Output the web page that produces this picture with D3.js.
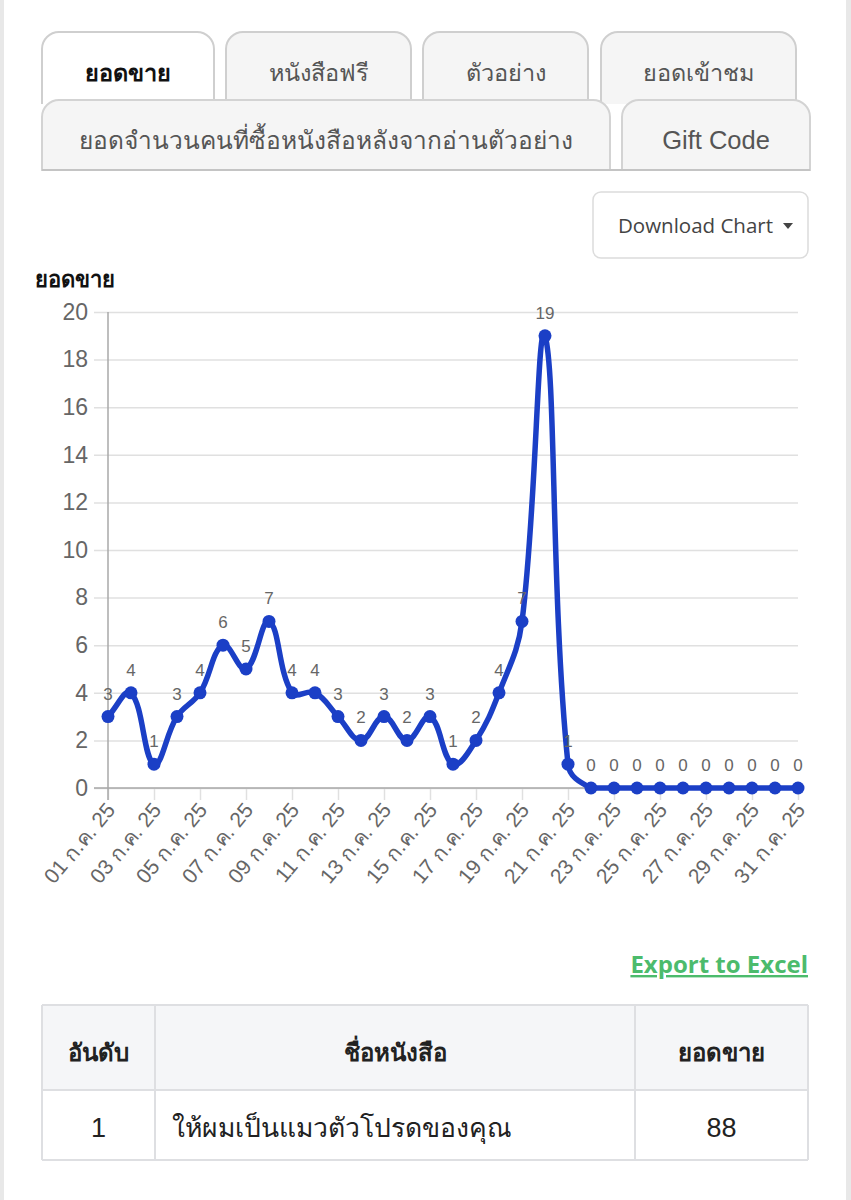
<!DOCTYPE html>
<html>
<head>
<meta charset="utf-8">
<script src="https://cdn.jsdelivr.net/npm/d3@7"></script>
<style>
  html, body { margin: 0; padding: 0; background: #fff; }
  svg { display: block; }
  text { font-family: "Liberation Sans", Arial, Helvetica, sans-serif; }
</style>
</head>
<body>
<svg id="page" width="851" height="1200"></svg>
<script>
// ---------------- data ----------------
const dayLabels = ["01 ก.ค. 25","02 ก.ค. 25","03 ก.ค. 25","04 ก.ค. 25","05 ก.ค. 25","06 ก.ค. 25","07 ก.ค. 25","08 ก.ค. 25","09 ก.ค. 25","10 ก.ค. 25","11 ก.ค. 25","12 ก.ค. 25","13 ก.ค. 25","14 ก.ค. 25","15 ก.ค. 25","16 ก.ค. 25","17 ก.ค. 25","18 ก.ค. 25","19 ก.ค. 25","20 ก.ค. 25","21 ก.ค. 25","22 ก.ค. 25","23 ก.ค. 25","24 ก.ค. 25","25 ก.ค. 25","26 ก.ค. 25","27 ก.ค. 25","28 ก.ค. 25","29 ก.ค. 25","30 ก.ค. 25","31 ก.ค. 25"];
const salesValues = [3,4,1,3,4,6,5,7,4,4,3,2,3,2,3,1,2,4,7,19,1,0,0,0,0,0,0,0,0,0,0];
const yTickValues = [0,2,4,6,8,10,12,14,16,18,20];
const tabRow1 = ["ยอดขาย","หนังสือฟรี","ตัวอย่าง","ยอดเข้าชม"];
const tabRow2 = ["ยอดจำนวนคนที่ซื้อหนังสือหลังจากอ่านตัวอย่าง","Gift Code"];
const chartTitle = "ยอดขาย";
const tableHeaders = ["อันดับ","ชื่อหนังสือ","ยอดขาย"];
const tableRanks = ["1"];
const tableBooks = ["ให้ผมเป็นแมวตัวโปรดของคุณ"];
const tableSales = ["88"];

// ---------------- page ----------------
const svg = d3.select("#page");
svg.append("rect").attr("x",0).attr("y",0).attr("width",4).attr("height",1200).attr("fill","#e8e8e8");
svg.append("rect").attr("x",846).attr("y",0).attr("width",5).attr("height",1200).attr("fill","#e8e8e8");

// ---------------- tabs ----------------
function tabPath(x0, x1, y0, y1, r) {
  const p = d3.path();
  p.moveTo(x0, y1);
  p.lineTo(x0, y0 + r);
  p.arcTo(x0, y0, x0 + r, y0, r);
  p.lineTo(x1 - r, y0);
  p.arcTo(x1, y0, x1, y0 + r, r);
  p.lineTo(x1, y1);
  return p.toString();
}
const row1X = [[42,214],[226,411],[423,588],[601,796]];
const row2X = [[42,610],[622,810]];
const tabs = svg.append("g");
tabRow1.forEach((t, i) => {
  const [a, b] = row1X[i];
  tabs.append("path").attr("d", tabPath(a, b, 32, 104, 17))
    .attr("fill", i === 0 ? "#ffffff" : "#f5f5f5")
    .attr("stroke", "#cfcfcf").attr("stroke-width", 2);
  tabs.append("text").attr("x", (a + b) / 2).attr("y", 81)
    .attr("text-anchor", "middle").attr("font-size", 23.5)
    .attr("font-weight", i === 0 ? "bold" : "normal")
    .attr("fill", i === 0 ? "#111" : "#555").text(t);
});
tabRow2.forEach((t, i) => {
  const [a, b] = row2X[i];
  tabs.append("path").attr("d", tabPath(a, b, 100, 170, 17) + "Z")
    .attr("fill", "#f5f5f5").attr("stroke", "#d3d3d3").attr("stroke-width", 2);
  tabs.append("text").attr("x", (a + b) / 2).attr("y", 149)
    .attr("text-anchor", "middle").attr("font-size", i === 0 ? 24.5 : 25.5)
    .attr("fill", "#555").text(t);
});
tabs.append("line").attr("x1", 42).attr("x2", 810).attr("y1", 170).attr("y2", 170)
  .attr("stroke", "#c4c4c4").attr("stroke-width", 2);

// ---------------- download button ----------------
svg.append("rect").attr("x", 593).attr("y", 192).attr("width", 215).attr("height", 66)
  .attr("rx", 8).attr("fill", "#fff").attr("stroke", "#dcdcdc").attr("stroke-width", 1.5);
svg.append("text").attr("x", 618).attr("y", 233).attr("font-size", 20.5)
  .style("font-family", "'Open Sans', 'Noto Sans', sans-serif")
  .attr("fill", "#444").text("Download Chart");
svg.append("path").attr("d", "M783,223 L793,223 L788,229 Z").attr("fill", "#444");

// ---------------- chart ----------------
const area = { left: 108, right: 798, top: 312, bottom: 788 };
const x = d3.scalePoint().domain(dayLabels).range([area.left, area.right]);
const y = d3.scaleLinear().domain([0, 20]).range([area.bottom, area.top]);
const shownLabels = dayLabels.filter((d, i) => i % 2 === 0);

svg.append("text").attr("x", 35).attr("y", 287).attr("font-size", 22)
  .attr("font-weight", "bold").attr("fill", "#111").text(chartTitle);

const chart = svg.append("g");
// horizontal grid + y ticks
const yAxis = d3.axisLeft(y).tickValues(yTickValues).tickSize(-(area.right - area.left)).tickPadding(20);
const gy = chart.append("g").attr("transform", `translate(${area.left},0)`).call(yAxis);
gy.select(".domain").remove();
gy.selectAll(".tick line").attr("stroke", "#e0e0e0").attr("stroke-width", 1.5).attr("x1", -14);
gy.selectAll(".tick text").attr("font-size", 23).attr("fill", "#666")
  .style("font-family", "'Liberation Sans', Arial, sans-serif");

// vertical grid + x ticks
const xAxis = d3.axisBottom(x).tickValues(shownLabels).tickSize(-(area.bottom - area.top)).tickFormat("");
const gx = chart.append("g").attr("transform", `translate(0,${area.bottom})`).call(xAxis);
gx.select(".domain").remove();
gx.selectAll(".tick line").attr("stroke", "#e0e0e0").attr("stroke-width", 1.5).attr("y2", 12);

// x labels rotated
chart.append("g").selectAll("text").data(shownLabels).join("text")
  .attr("transform", d => `translate(${x(d) + 4},${area.bottom + 19}) rotate(-50)`)
  .attr("text-anchor", "end").attr("dominant-baseline", "middle")
  .attr("font-size", 21).attr("fill", "#666").text(d => d);

// axis lines
chart.append("line").attr("x1", area.left).attr("x2", area.left).attr("y1", area.top).attr("y2", area.bottom + 12)
  .attr("stroke", "#a8a8a8").attr("stroke-width", 1.5);
chart.append("line").attr("x1", area.left - 14).attr("x2", area.right).attr("y1", area.bottom).attr("y2", area.bottom)
  .attr("stroke", "#a8a8a8").attr("stroke-width", 1.5);

// spline (Chart.js-like, tension 0.4)
const pts = salesValues.map((v, i) => ({ x: x(dayLabels[i]), y: y(v) }));
const tension = 0.4;
const ctrl = pts.map((p, i) => {
  const prev = pts[i - 1] || p, next = pts[i + 1] || p;
  const d01 = Math.hypot(p.x - prev.x, p.y - prev.y);
  const d12 = Math.hypot(next.x - p.x, next.y - p.y);
  let s01 = d01 / (d01 + d12), s12 = d12 / (d01 + d12);
  if (!isFinite(s01)) s01 = 0;
  if (!isFinite(s12)) s12 = 0;
  const fa = tension * s01, fb = tension * s12;
  const cap = v => Math.max(area.top, Math.min(area.bottom, v));
  return {
    c1x: p.x - fa * (next.x - prev.x), c1y: cap(p.y - fa * (next.y - prev.y)),
    c2x: p.x + fb * (next.x - prev.x), c2y: cap(p.y + fb * (next.y - prev.y))
  };
});
const path = d3.path();
path.moveTo(pts[0].x, pts[0].y);
for (let i = 0; i < pts.length - 1; i++) {
  path.bezierCurveTo(ctrl[i].c2x, ctrl[i].c2y, ctrl[i + 1].c1x, ctrl[i + 1].c1y, pts[i + 1].x, pts[i + 1].y);
}
const lineColor = "#1b3fc6";
chart.append("path").attr("d", path.toString()).attr("fill", "none")
  .attr("stroke", lineColor).attr("stroke-width", 5.5).attr("stroke-linejoin", "round");

chart.append("g").selectAll("circle").data(salesValues).join("circle")
  .attr("cx", (d, i) => x(dayLabels[i])).attr("cy", d => y(d)).attr("r", 6.5)
  .attr("fill", lineColor);

chart.append("g").selectAll("text").data(salesValues).join("text")
  .attr("x", (d, i) => x(dayLabels[i])).attr("y", d => y(d) - 17)
  .attr("text-anchor", "middle").attr("font-size", 17).attr("fill", "#666")
  .text(d => d);

// ---------------- export link ----------------
svg.append("text").attr("x", 808).attr("y", 973).attr("text-anchor", "end")
  .attr("font-size", 24).attr("font-weight", "bold").attr("fill", "#4cbb6c")
  .style("font-family", "'Open Sans', 'Noto Sans', sans-serif")
  .attr("text-decoration", "underline").text("Export to Excel");

// ---------------- table ----------------
const colX = [42, 155, 635, 808];
const tbl = svg.append("g");
tbl.append("rect").attr("x", 42).attr("y", 1005).attr("width", 766).attr("height", 85).attr("fill", "#f5f6f8");
tbl.append("rect").attr("x", 42).attr("y", 1090).attr("width", 766).attr("height", 70).attr("fill", "#fff");
[1005, 1090, 1160].forEach(yy => tbl.append("line").attr("x1", 42).attr("x2", 808).attr("y1", yy).attr("y2", yy)
  .attr("stroke", "#dedfe2").attr("stroke-width", 2));
colX.forEach(xx => tbl.append("line").attr("x1", xx).attr("x2", xx).attr("y1", 1005).attr("y2", 1160)
  .attr("stroke", "#dedfe2").attr("stroke-width", 2));
tableHeaders.forEach((h, i) => {
  tbl.append("text").attr("x", (colX[i] + colX[i + 1]) / 2).attr("y", 1061)
    .attr("text-anchor", "middle").attr("font-size", 24).attr("font-weight", "bold")
    .attr("fill", "#222").text(h);
});
tableRanks.forEach((r, j) => {
  const yy = 1137 + j * 70;
  tbl.append("text").attr("x", (colX[0] + colX[1]) / 2).attr("y", yy).attr("text-anchor", "middle")
    .attr("font-size", 27).attr("fill", "#222").text(r);
  tbl.append("text").attr("x", 172).attr("y", yy)
    .attr("font-size", 26.5).attr("fill", "#222").text(tableBooks[j]);
  tbl.append("text").attr("x", (colX[2] + colX[3]) / 2).attr("y", yy).attr("text-anchor", "middle")
    .attr("font-size", 27).attr("fill", "#222").text(tableSales[j]);
});
</script>
</body>
</html>
